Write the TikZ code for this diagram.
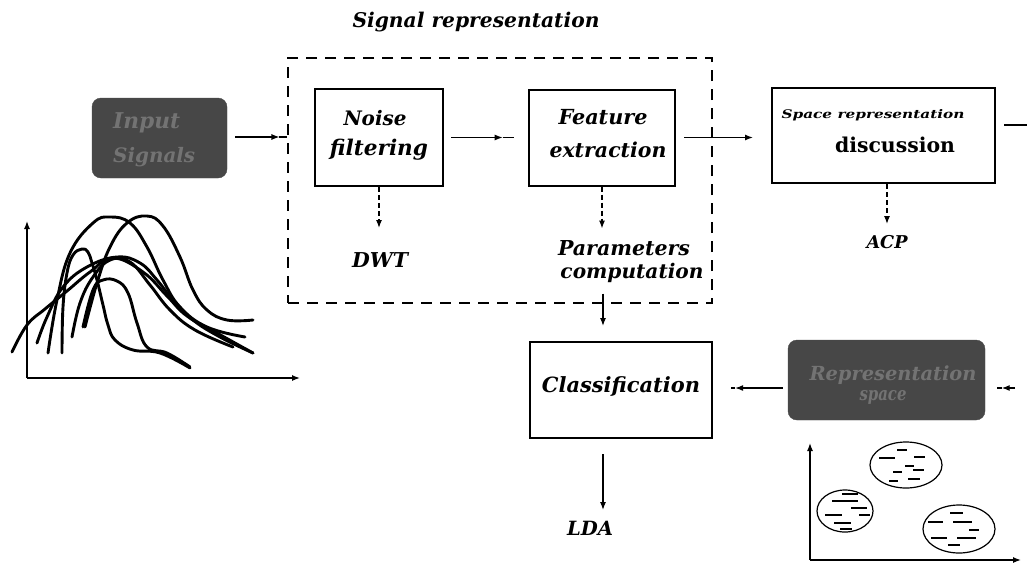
\documentclass[tikz,border=0pt]{standalone}
\usepackage{fontspec}
\setmainfont{DejaVu Serif}
\usepackage{graphicx}
\usetikzlibrary{arrows.meta,calc}
\newcommand\fw[2]{\resizebox{#1pt}{!}{#2}}
\definecolor{darkfill}{gray}{0.28}
\definecolor{fainttext}{gray}{0.45}
\tikzset{
  blk/.style={draw=black, line width=2pt, fill=white, inner sep=0pt},
  dark/.style={draw=darkfill, fill=darkfill, rounded corners=9pt, inner sep=0pt},
  frame/.style={draw=black, line width=1.4pt, dash pattern=on 11pt off 8pt, inner sep=0pt},
  lbl/.style={inner sep=0pt, font=\bfseries\itshape},
  ulbl/.style={inner sep=0pt, font=\bfseries},
  faint/.style={inner sep=0pt, font=\bfseries\itshape, text=fainttext},
  ln/.style={line width=1.2pt},
  tip/.style={line width=1.2pt, -{Latex[length=8pt,width=6pt]}},
  dtip/.style={line width=1.2pt, dash pattern=on 5pt off 3pt, -{Latex[length=8pt,width=6pt]}},
  curve/.style={line width=2.9pt, line cap=round, line join=round},
  axis/.style={line width=1.3pt, -{Latex[length=8pt,width=6pt]}},
  dsh/.style={line width=1.1pt},
  ell/.style={draw=black, line width=1.2pt}
}
\begin{document}
\begin{tikzpicture}[x=1pt,y=-1pt]
\useasboundingbox (0,0) rectangle (1027,562);

% title
\node[lbl] (title) at (476,22) {\fw{247}{Signal representation}};

% dashed frame
\node[frame, minimum width=424pt, minimum height=245pt] (sigbox) at (500,180.5) {};

% boxes
\node[dark, minimum width=135pt, minimum height=80pt] (inp) at (159.5,138) {};
\node[blk, minimum width=128pt, minimum height=97pt] (noise) at (379,137.5) {};
\node[blk, minimum width=146pt, minimum height=96pt] (feat) at (602,137.5) {};
\node[blk, minimum width=223pt, minimum height=95pt] (space) at (883.5,135.5) {};
\node[blk, minimum width=182pt, minimum height=96pt] (classif) at (621,390) {};
\node[dark, minimum width=197pt, minimum height=80pt] (rep) at (886.5,380) {};

% box texts
\node[faint, anchor=west] (inpA) at (113,123) {\fw{67}{Input}};
\node[faint, anchor=west] (inpB) at (113,157) {\fw{82}{Signals}};
\node[lbl] (noiseA) at (375,118) {\fw{63}{Noise}};
\node[lbl] (noiseB) at (379,150) {\fw{98}{filtering}};
\node[lbl] (featA) at (603,117) {\fw{89}{Feature}};
\node[lbl] (featB) at (608,150) {\fw{117}{extraction}};
\node[lbl] (spaceA) at (873,115) {\resizebox{183pt}{9pt}{Space representation}};
\node[ulbl] (spaceB) at (895,145) {\fw{120}{discussion}};
\node[lbl] (classT) at (621,387) {\fw{158}{Classification}};
\node[faint] (repA) at (893,375) {\fw{167}{Representation}};
\node[faint] (repB) at (883,397) {\resizebox{47pt}{10pt}{space}};

% free labels
\node[lbl] (dwt) at (380,260) {\fw{56}{DWT}};
\node[lbl] (parA) at (624,248) {\fw{132}{Parameters}};
\node[lbl] (parB) at (632,273) {\fw{143}{computation}};
\node[lbl] (acp) at (887,242) {\fw{41}{ACP}};
\node[lbl] (lda) at (590,528) {\fw{46}{LDA}};

% connector end points
\coordinate (c1s) at ($(inp.east)+(8,-1)$);
\coordinate (c1e) at ($(sigbox.west |- inp.east)+(0,-1)$);
\coordinate (c2s) at ($(noise.east)+(7,0)$);
\coordinate (c2e) at ($(feat.west)+(-14,0)$);
\coordinate (c6s) at ($(rep.west |- classif.east)+(-5,-2)$);
\coordinate (c6e) at ($(classif.east)+(18,-2)$);
\coordinate (c7s) at ($(rep.east |- classif.east)+(30,-2)$);
\coordinate (c7e) at ($(rep.east |- classif.east)+(12,-2)$);
\coordinate (rout) at (1027,125);

% connectors
\draw[tip] (c1s) -- ($(c1s)!0.85!(c1e)$);
\draw[ln] ($(c1s)!0.85!(c1e)$) -- (c1e);
\draw[tip] (c2s) -- ($(c2s)!0.82!(c2e)$);
\draw[ln] ($(c2s)!0.82!(c2e)$) -- (c2e);
\draw[tip] ($(feat.east)+(8,0)$) -- ($(space.west |- feat.east)+(-18,0)$);
\draw[ln] ($(space.east |- rout)+(8,0)$) -- (rout);
\draw[dtip] (noise.south) -- ++(0,41);
\draw[dtip] (feat.south) -- ++(0,42);
\draw[dtip] ($(space.south)+(3.5,0)$) -- ++(0,40);
\draw[tip] ($(feat.south |- sigbox.south)+(1,-10)$) -- ($(feat.south |- classif.north)+(1,-15)$);
\draw[tip] ($(feat.south |- classif.south)+(1,15)$) -- ++(0,56);
\draw[tip] (c6s) -- ($(c6s)!0.92!(c6e)$);
\draw[ln] ($(c6s)!0.92!(c6e)$) -- (c6e);
\draw[tip] (c7s) -- ($(c7s)!0.75!(c7e)$);
\draw[ln] ($(c7s)!0.75!(c7e)$) -- (c7e);

% signal plot
\draw[axis] (27,378) -- (27,221);
\draw[axis] (27,378) -- (300,378);
\draw[curve] plot[smooth, tension=0.7] coordinates {(12,352) (27,325) (45,309) (67,291) (90,272) (113,258) (143,272) (167,296) (187,316) (217,333) (253,353)};
\draw[curve] plot[smooth, tension=0.7] coordinates {(48,353) (57,300) (70,253) (93,223) (110,217) (130,223) (147,247) (163,280) (180,307) (207,327) (245,337)};
\draw[curve] plot[smooth, tension=0.7] coordinates {(85,327) (97,283) (110,247) (127,223) (147,216) (163,226) (180,257) (193,290) (207,310) (227,320) (253,320)};
\draw[curve] plot[smooth, tension=0.7] coordinates {(62,353) (63,307) (67,273) (73,255) (82,249) (88,252) (92,263) (97,280) (103,305) (108,325) (115,340) (133,350) (160,353) (190,368)};
\draw[curve] plot[smooth, tension=0.7] coordinates {(37,343) (47,317) (63,287) (87,267) (117,257) (140,263) (157,280) (173,300) (193,320) (220,337) (253,353)};
\draw[curve] plot[smooth, tension=0.7] coordinates {(72,337) (80,303) (93,277) (110,260) (130,262) (150,285) (170,310) (195,330) (233,347)};
\draw[curve] plot[smooth, tension=0.7] coordinates {(83,327) (93,290) (103,280) (117,281) (128,293) (137,323) (147,347) (167,353) (190,367)};

% scatter plot
\draw[axis] (810,560) -- (810,443);
\draw[axis] (810,560) -- (1021,560);
\draw[ell] (906,465) ellipse [x radius=36, y radius=23];
\draw[ell] (845,511) ellipse [x radius=28, y radius=21];
\draw[ell] (959,529) ellipse [x radius=36, y radius=24];
\foreach \a/\b/\y in {897/907/450, 879/895/458, 914/925/457, 905/914/466, 893/902/472, 913/924/470, 889/898/481, 908/920/479,
  842/858/494, 832/858/501, 851/867/508, 825/842/515, 859/870/515, 834/851/523, 840/852/529,
  950/963/513, 928/943/522, 953/972/522, 969/979/530, 931/947/538, 957/976/538, 948/960/545}
  \draw[dsh] (\a,\y) -- (\b,\y);
\end{tikzpicture}
\end{document}
